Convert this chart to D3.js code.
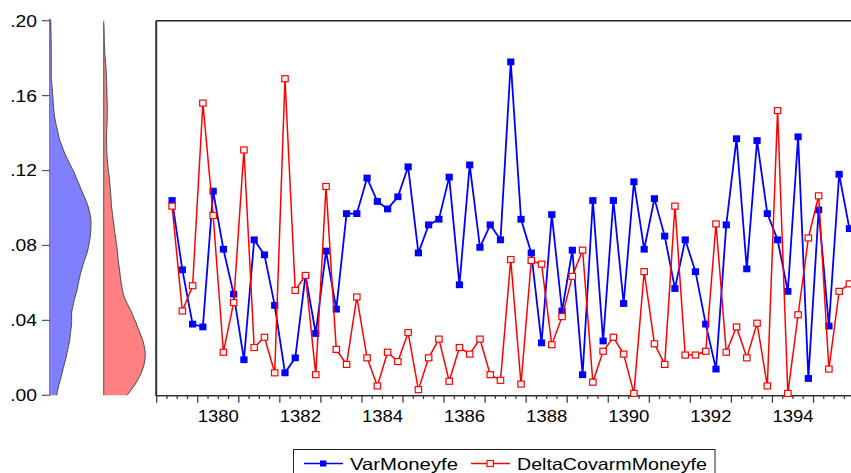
<!DOCTYPE html>
<html lang="en">
<head>
<meta charset="UTF-8">
<title>VarMoneyfe / DeltaCovarmMoneyfe</title>
<script src="https://d3js.org/d3.v7.min.js"></script>
<style>
  body { margin: 0; background: #fff; }
  svg text { font-family: "Liberation Sans", Arial, sans-serif; fill: #000; }
</style>
</head>
<body>
<svg id="chart" width="851" height="473"></svg>
<script>
// quarterly periods (Persian calendar years)
let periods = ["1379Q2","1379Q3","1379Q4",
    "1380Q1","1380Q2","1380Q3","1380Q4","1381Q1","1381Q2","1381Q3","1381Q4",
    "1382Q1","1382Q2","1382Q3","1382Q4","1383Q1","1383Q2","1383Q3","1383Q4",
    "1384Q1","1384Q2","1384Q3","1384Q4","1385Q1","1385Q2","1385Q3","1385Q4",
    "1386Q1","1386Q2","1386Q3","1386Q4","1387Q1","1387Q2","1387Q3","1387Q4",
    "1388Q1","1388Q2","1388Q3","1388Q4","1389Q1","1389Q2","1389Q3","1389Q4",
    "1390Q1","1390Q2","1390Q3","1390Q4","1391Q1","1391Q2","1391Q3","1391Q4",
    "1392Q1","1392Q2","1392Q3","1392Q4","1393Q1","1393Q2","1393Q3","1393Q4",
    "1394Q1","1394Q2","1394Q3","1394Q4","1395Q1","1395Q2","1395Q3","1395Q4"];

let varMoneyfe = [0.104, 0.067, 0.038, 0.0365, 0.109, 0.078, 0.054, 0.019, 0.083, 0.075,
    0.048, 0.012, 0.020, 0.064, 0.033, 0.077, 0.046, 0.097, 0.097, 0.116,
    0.1035, 0.0995, 0.106, 0.122, 0.076, 0.091, 0.094, 0.1165, 0.059, 0.123,
    0.079, 0.091, 0.083, 0.178, 0.094, 0.076, 0.028, 0.0965, 0.045, 0.0775,
    0.011, 0.104, 0.029, 0.104, 0.049, 0.114, 0.078, 0.105, 0.085, 0.057,
    0.083, 0.066, 0.038, 0.014, 0.091, 0.137, 0.0675, 0.136, 0.097, 0.083,
    0.0555, 0.138, 0.009, 0.099, 0.037, 0.118, 0.089];

let deltaCovarmMoneyfe = [0.101, 0.045, 0.0585, 0.156, 0.096, 0.023, 0.0495, 0.131, 0.0255, 0.031,
    0.012, 0.169, 0.056, 0.064, 0.011, 0.1115, 0.0245, 0.0165, 0.0525, 0.020,
    0.005, 0.023, 0.018, 0.0335, 0.003, 0.020, 0.030, 0.0075, 0.0255, 0.022,
    0.030, 0.011, 0.008, 0.0725, 0.006, 0.072, 0.070, 0.027, 0.042, 0.0635,
    0.0775, 0.007, 0.0235, 0.031, 0.022, 0.001, 0.066, 0.0275, 0.0165, 0.101,
    0.0215, 0.0215, 0.0235, 0.0915, 0.023, 0.0365, 0.020, 0.0385, 0.005, 0.152,
    0.001, 0.043, 0.084, 0.1065, 0.014, 0.0555, 0.0595];

let yTicks = [0, 0.04, 0.08, 0.12, 0.16, 0.20];
let yearLabels = [1380, 1382, 1384, 1386, 1388, 1390, 1392, 1394];
let seriesNames = ["VarMoneyfe", "DeltaCovarmMoneyfe"];

let svg = d3.select('#chart'),
    yTop = 20.7, yBottom = 395.3,
    plotLeft = 156.7, yearW = 41.05,
    firstYear = 1379, lastYear = 1396;

let y = d3.scaleLinear().domain([0, 0.2]).range([yBottom, yTop]);
let x = d3.scaleLinear().domain([firstYear, lastYear])
    .range([plotLeft, plotLeft + (lastYear - firstYear) * yearW]);

function periodPos(p){
    let yr = +p.slice(0, 4), q = +p.slice(5);
    return yr + (q - 0.5) / 4;
}

// stretch text horizontally (the source picture is slightly widened)
function stretch(sel, f){
    sel.each(function(){
        let w = this.getComputedTextLength();
        d3.select(this).attr('textLength', w * f).attr('lengthAdjust', 'spacingAndGlyphs');
    });
}

// ---- left y axis shared by densities and the line plot
let yAxis = svg.append('g');
yAxis.append('line').attr('x1', 50).attr('x2', 50).attr('y1', yTop - 2).attr('y2', yBottom)
    .attr('stroke', '#555').attr('stroke-width', 1.5);
yAxis.selectAll('line.tk').data(yTicks).enter().append('line').attr('class', 'tk')
    .attr('x1', 42).attr('x2', 50).attr('y1', d => y(d)).attr('y2', d => y(d))
    .attr('stroke', '#555').attr('stroke-width', 1.2);
yAxis.selectAll('text').data(yTicks).enter().append('text')
    .attr('x', 37).attr('y', d => y(d)).attr('dy', '0.36em')
    .attr('text-anchor', 'end').style('font-size', '16.5px')
    .text(d => d3.format('.2f')(d).replace(/^0/, ''))
    .call(stretch, 1.17);

// ---- kernel densities (Epanechnikov, EViews-like bandwidth)
function bandwidth(v){
    let s = d3.deviation(v),
        sorted = v.slice().sort(d3.ascending),
        iqr = d3.quantile(sorted, 0.75) - d3.quantile(sorted, 0.25);
    return 0.9 * 2.34 * Math.pow(v.length, -0.2) * Math.min(s, iqr / 1.34);
}
function kde(v, grid){
    let h = bandwidth(v);
    return grid.map(t => {
        let s = d3.sum(v, xi => {
            let u = (t - xi) / h;
            return Math.abs(u) <= 1 ? 0.75 * (1 - u * u) : 0;
        });
        return [t, s / (v.length * h)];
    });
}
let grid = d3.range(0, 0.2001, 0.001);
let densities = [
    {v: varMoneyfe, base: 50, fill: '#8080ff', width: 41},
    {v: deltaCovarmMoneyfe, base: 103.7, fill: '#ff8080', width: 41.5}
];
densities.forEach(d => {
    let dens = kde(d.v, grid),
        w = d3.scaleLinear().domain([0, d3.max(dens, e => e[1])]).range([d.base, d.base + d.width]);
    let area = d3.area().y(e => y(e[0])).x0(d.base).x1(e => w(e[1])).curve(d3.curveBasis);
    let line = d3.line().y(e => y(e[0])).x(e => w(e[1])).curve(d3.curveBasis);
    svg.append('path').attr('d', area(dens)).attr('fill', d.fill);
    svg.append('path').attr('d', line(dens)).attr('fill', 'none').attr('stroke', '#444').attr('stroke-width', 1);
});
svg.append('line').attr('x1', 103.7).attr('x2', 103.7).attr('y1', 24).attr('y2', yBottom)
    .attr('stroke', '#666').attr('stroke-width', 1.2);

// ---- line plot frame
svg.append('line').attr('x1', plotLeft - 0.5).attr('x2', 851).attr('y1', yTop).attr('y2', yTop)
    .attr('stroke', '#222').attr('stroke-width', 1.4);
svg.append('line').attr('x1', plotLeft - 0.5).attr('x2', plotLeft - 0.5).attr('y1', yTop).attr('y2', yBottom + 0.5)
    .attr('stroke', '#333').attr('stroke-width', 2);

// bottom axis: quarter minor ticks, year major ticks, labels every two years
let xAxis = svg.append('g');
xAxis.append('line').attr('x1', plotLeft - 1).attr('x2', 851).attr('y1', yBottom + 0.5).attr('y2', yBottom + 0.5)
    .attr('stroke', '#333').attr('stroke-width', 1.6);
let qTicks = d3.range(firstYear * 4, lastYear * 4 + 1).map(q => q / 4);
xAxis.selectAll('line.tk').data(qTicks).enter().append('line').attr('class', 'tk')
    .attr('x1', d => x(d)).attr('x2', d => x(d))
    .attr('y1', yBottom).attr('y2', d => yBottom + (d % 1 === 0 ? 7.5 : 3.8))
    .attr('stroke', '#333').attr('stroke-width', 1.2);
xAxis.selectAll('text').data(yearLabels).enter().append('text')
    .attr('x', d => x(d + 0.5)).attr('y', 421.5).attr('text-anchor', 'middle')
    .style('font-size', '16.5px').text(d => d)
    .call(stretch, 1.12);

// ---- series
svg.append('clipPath').attr('id', 'plotClip').append('rect')
    .attr('x', plotLeft).attr('y', yTop - 6).attr('width', 700).attr('height', yBottom - yTop + 12);
let plot = svg.append('g').attr('clip-path', 'url(#plotClip)');

let lineGen = d3.line().x(d => x(d.t)).y(d => y(d.v));
let blueData = periods.map((p, i) => ({t: periodPos(p), v: varMoneyfe[i]})),
    redData = periods.map((p, i) => ({t: periodPos(p), v: deltaCovarmMoneyfe[i]}));

plot.append('path').attr('d', lineGen(blueData)).attr('fill', 'none')
    .attr('stroke', '#0000ff').attr('stroke-width', 1.8);
plot.selectAll('rect.b').data(blueData).enter().append('rect').attr('class', 'b')
    .attr('x', d => x(d.t) - 3.6).attr('y', d => y(d.v) - 3.4)
    .attr('width', 7.2).attr('height', 6.8).attr('fill', '#0000ff');

plot.append('path').attr('d', lineGen(redData)).attr('fill', 'none')
    .attr('stroke', '#ff0000').attr('stroke-width', 1.5);
plot.selectAll('rect.r').data(redData).enter().append('rect').attr('class', 'r')
    .attr('x', d => x(d.t) - 3.2).attr('y', d => y(d.v) - 3)
    .attr('width', 6.4).attr('height', 6).attr('fill', '#fff')
    .attr('stroke', '#ff0000').attr('stroke-width', 1.2);

// ---- legend
let leg = svg.append('g');
leg.append('rect').attr('x', 293.5).attr('y', 449.5).attr('width', 421.5).attr('height', 30)
    .attr('fill', '#fff').attr('stroke', '#222').attr('stroke-width', 1);
let legItems = [
    {name: seriesNames[0], color: '#0000ff', x0: 304, filled: true, tx: 350, tw: 108},
    {name: seriesNames[1], color: '#ff0000', x0: 471, filled: false, tx: 517, tw: 190}
];
legItems.forEach(it => {
    leg.append('line').attr('x1', it.x0).attr('x2', it.x0 + 39).attr('y1', 463.5).attr('y2', 463.5)
        .attr('stroke', it.color).attr('stroke-width', 1.6);
    leg.append('rect').attr('x', it.x0 + 16).attr('y', 460.5).attr('width', 6.4).attr('height', 6)
        .attr('fill', it.filled ? it.color : '#fff').attr('stroke', it.color).attr('stroke-width', it.filled ? 0 : 1.2);
    leg.append('text').attr('x', it.tx).attr('y', 469.5).style('font-size', '16.5px')
        .attr('textLength', it.tw).attr('lengthAdjust', 'spacingAndGlyphs').text(it.name);
});
</script>
</body>
</html>
